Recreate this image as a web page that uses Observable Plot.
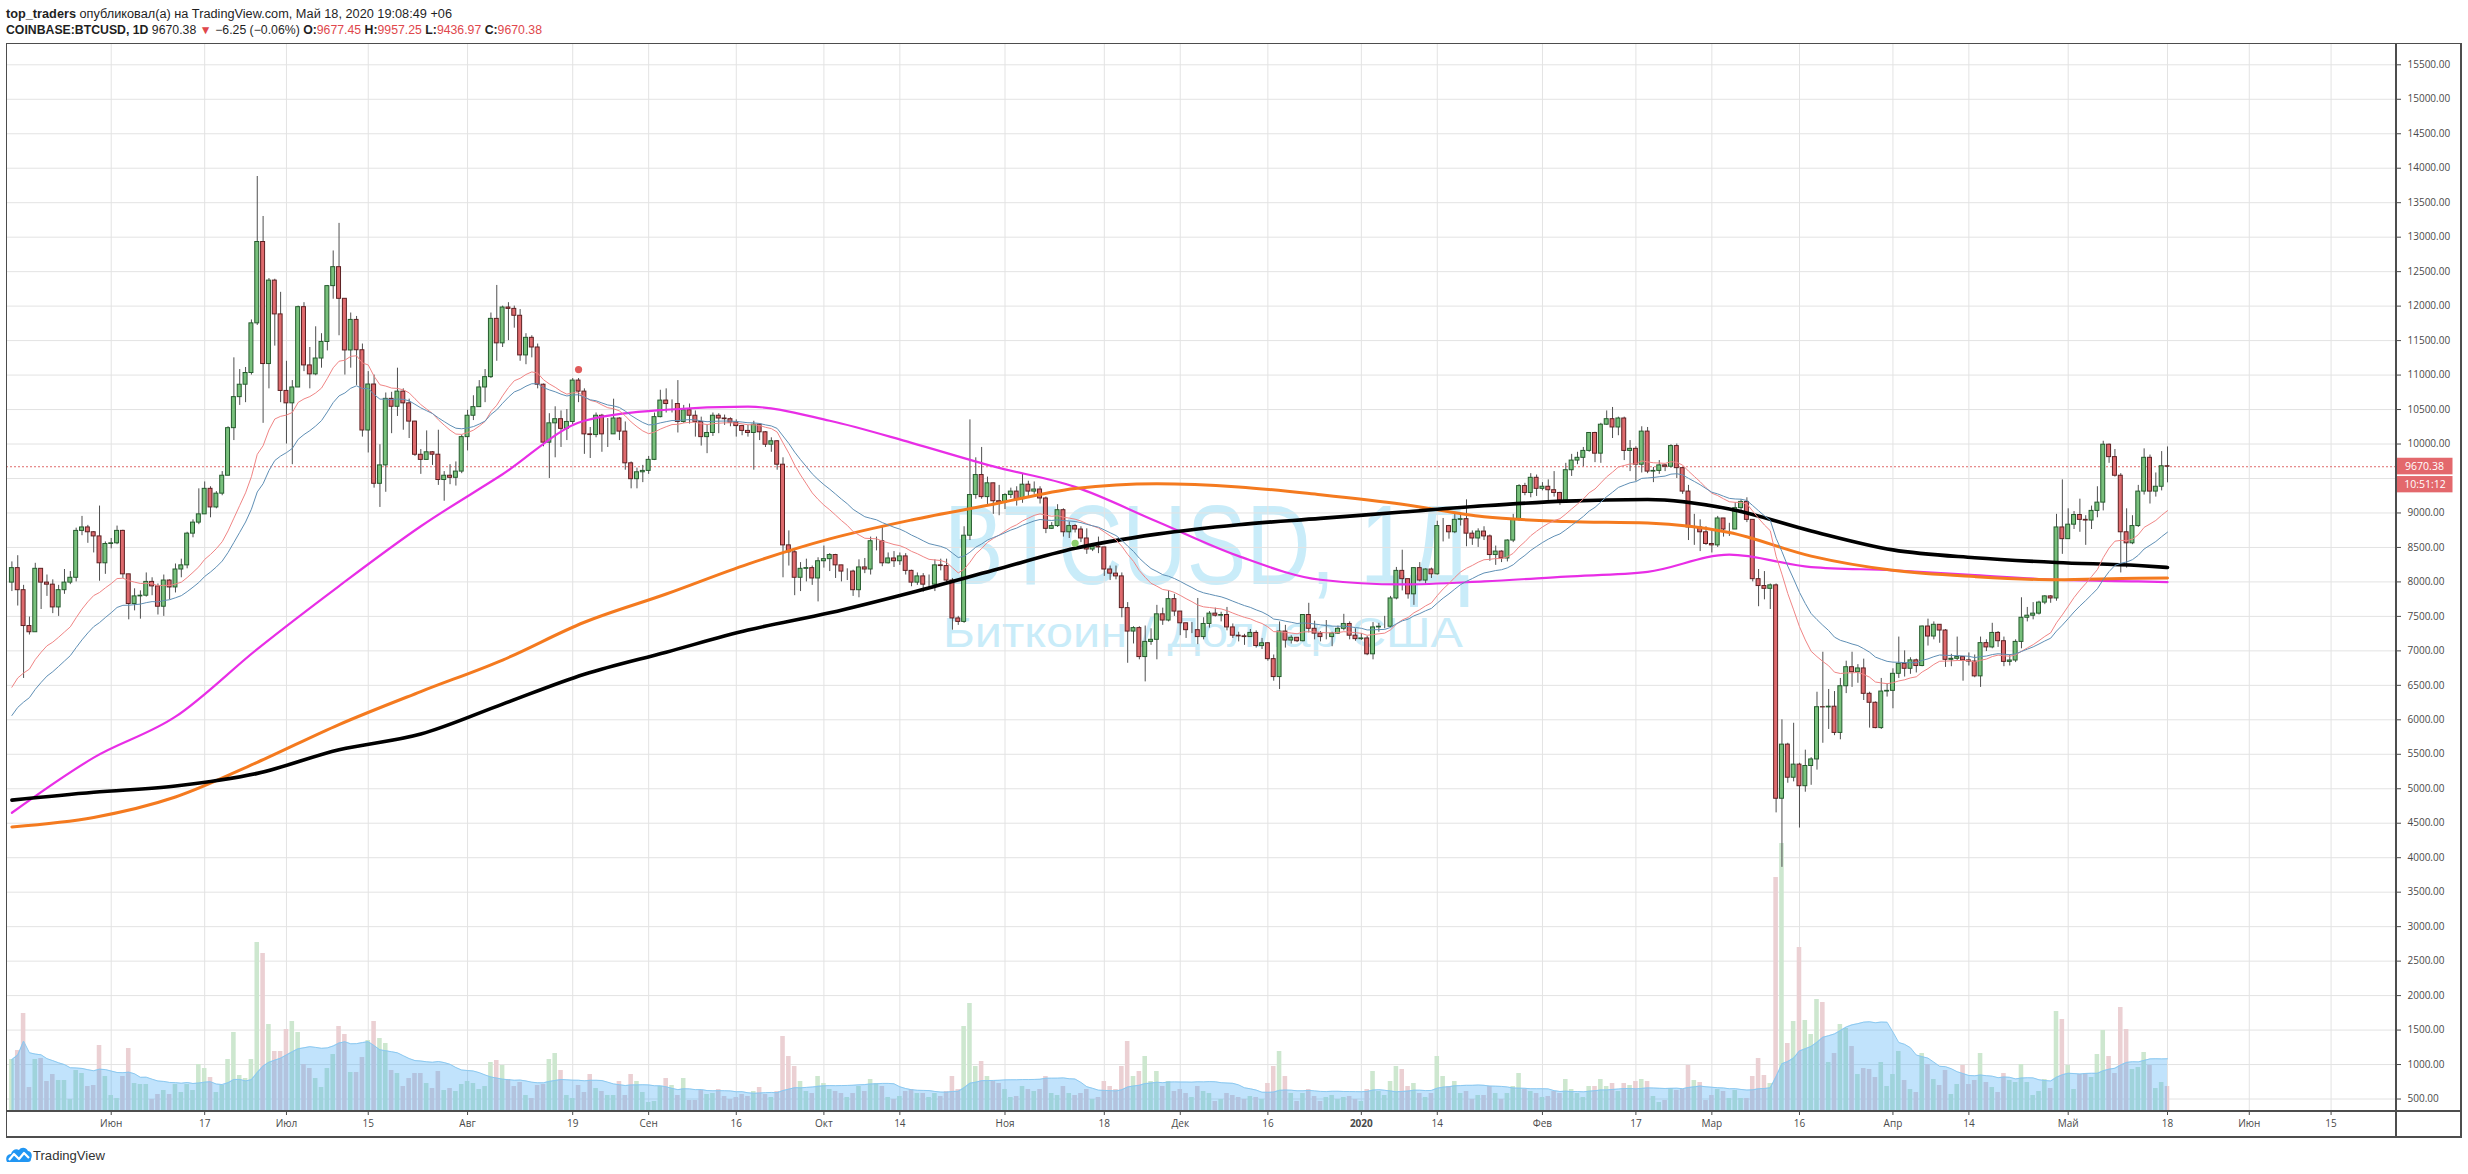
<!DOCTYPE html>
<html><head><meta charset="utf-8">
<script src="https://cdn.jsdelivr.net/npm/d3@7"></script>
<script src="https://cdn.jsdelivr.net/npm/@observablehq/plot@0.6"></script>
<style>
html,body{margin:0;padding:0;background:#fff;}
#root{position:relative;width:2468px;height:1174px;overflow:hidden;background:#fff;font-family:"Liberation Sans",Arial,sans-serif;}
.layer{position:absolute;left:6px;top:43px;}
.line{position:absolute;background:#4d4d4d;}
</style></head><body><div id="root"></div>
<script>
// ---------------- DATA ----------------
const startDate = "2019-05-15";
const firstOpen = 7990;
const close = [
// 2019-05 (15..31)
8200,7880,7360,7270,8190,7990,7960,7630,7880,7990,8060,8740,8790,8720,8660,8270,8550,
// 2019-06
8560,8740,8110,7680,7790,7800,8000,7935,7640,8020,7920,8180,8240,8700,8860,8980,9350,9080,9280,9540,10230,10680,10860,11030,11750,12930,11160,12370,11880,10770,
// 2019-07
10590,10820,11985,11140,11010,11240,11480,12290,12565,12106,11357,11800,11360,10196,10863,9423,9690,10655,10540,10760,10590,10325,9844,9770,9880,9845,9478,9540,9510,9600,10100,
// 2019-08
10410,10535,10820,10970,11815,11460,11980,11960,11860,11285,11540,11400,10860,10020,10300,10360,10220,10320,10920,10760,10140,10130,10410,10140,10140,10370,10180,9720,9490,9590,9610,
// 2019-09
9770,10390,10630,10580,10580,10320,10490,10410,10320,10100,10160,10410,10370,10360,10310,10260,10190,10160,10280,10170,9990,10040,9700,8530,8430,8060,8190,8200,8050,8300,
// 2019-10
8330,8390,8240,8150,8150,7880,8210,8180,8590,8590,8270,8340,8300,8370,8160,7990,8080,7960,7960,8240,8230,8020,7470,7420,8670,9260,9550,9230,9430,9170,9150,
// 2019-11
9260,9310,9200,9410,9310,9340,9210,8770,8810,9040,8720,8810,8760,8630,8470,8510,8500,8180,8120,8080,7620,7280,7330,6910,7130,7160,7530,7440,7750,7570,
// 2019-12
7400,7300,7300,7200,7390,7540,7510,7520,7340,7220,7210,7200,7260,7070,7110,6880,6620,7280,7150,7190,7140,7520,7320,7250,7200,7200,7250,7320,7390,7220,7170,
// 2020-01
7180,6950,7340,7350,7350,7760,8160,8040,7820,8200,8020,8180,8110,8810,8810,8720,8900,8910,8700,8630,8730,8660,8390,8440,8340,8600,8900,9390,9290,9510,9350,
// 2020-02
9380,9330,9290,9180,9620,9760,9800,9900,10160,9860,10280,10360,10240,10370,9900,9930,9700,10180,9600,9610,9690,9670,9970,9650,9310,8790,8790,8720,8550,
// 2020-03
8530,8920,8760,8760,9070,9160,8900,8040,7940,7900,7950,4855,5640,5160,5350,5037,5330,5425,6183,6180,6190,5810,6487,6763,6690,6745,6377,6247,5880,6410,6420,
// 2020-04
6667,6812,6740,6862,6780,7353,7208,7378,7295,6870,6885,6910,6862,6845,6630,7112,7050,7260,7140,6840,6860,7130,7480,7510,7540,7700,7790,7760,8790,8620,
// 2020-05 (1..18)
8830,8970,8900,8890,9030,9150,9990,9810,9540,8720,8560,8810,9310,9800,9310,9380,9677.45,9670.38
];
const high = [
8290,8380,7950,7490,8270,8190,8100,8030,7950,8180,8150,8780,8950,8820,8730,9100,8580,
8630,8810,8750,8110,7900,7870,8130,8060,7970,8100,8030,8260,8330,8720,8900,9350,9450,9380,9310,9600,10250,11250,11080,11110,11800,13880,13300,12400,12390,12200,
11200,10920,12000,12050,11400,11700,11600,12300,12800,13200,12100,11900,11850,11450,11050,11000,9990,10740,10750,11100,10800,10650,10330,9920,10190,9890,10200,9600,9700,9740,10130,
10490,10700,10920,11080,11900,12300,12000,12050,12000,11950,11600,11570,11450,10870,10440,10540,10480,10500,10950,10950,10800,10240,10450,10430,10370,10650,10380,10320,9740,9650,9690,
9820,10450,10780,10800,10640,10920,10560,10580,10480,10390,10280,10450,10440,10420,10380,10350,10270,10270,10330,10290,10180,10090,10050,9800,8740,8470,8280,8330,8230,8350,
8520,8410,8400,8230,8190,8170,8320,8340,8650,8650,8800,8420,8440,8420,8410,8170,8130,8120,8100,8320,8330,8330,8050,7500,8800,10350,9800,9950,9520,9430,9400,
9280,9360,9380,9560,9460,9450,9380,9230,8860,9120,9060,8870,8830,8800,8770,8540,8650,8500,8230,8230,8130,7700,7350,7350,7360,7320,7660,7620,7870,7820,
7570,7400,7410,7760,7480,7570,7620,7560,7630,7390,7270,7240,7310,7290,7180,7120,6940,7420,7370,7220,7190,7520,7690,7430,7280,7440,7270,7360,7530,7420,7320,
7250,7210,7410,7400,7500,7790,8210,8460,8040,8200,8280,8190,8200,8880,8920,8820,9010,9000,9190,8740,8770,8800,8680,8520,8450,8610,8980,9410,9430,9570,9550,
9440,9480,9600,9300,9720,9850,9880,9950,10160,10170,10300,10480,10530,10390,10390,10050,9960,10250,10240,9660,9760,9700,9990,10000,9660,9400,8980,8900,8800,
8750,8950,8920,8850,9150,9190,9220,8900,8180,8150,7970,7970,6000,5660,5950,5370,5560,5450,6400,6980,6440,6410,6600,6850,6980,6800,6880,6400,6260,6600,6520,
6740,7200,7000,6900,6880,7360,7460,7420,7380,7310,6950,7200,6910,6970,6940,7200,7160,7400,7280,7200,6940,7160,7770,7630,7700,7720,7800,7800,8980,9480,
9060,9020,9200,8960,9100,9380,10040,10000,9920,9570,9060,8960,9400,9930,9840,9580,9890,9957.25
];
const low = [
7860,7650,6600,7230,7270,7600,7790,7540,7500,7820,7960,8000,8670,8560,8420,8010,8110,
8480,8540,8050,7450,7580,7460,7780,7800,7520,7500,7740,7840,8060,8190,8640,8830,8980,8930,9060,9250,9540,10050,10560,10600,11000,11720,10300,10800,11420,10600,
10000,9700,10820,11050,10800,10990,11100,11350,12100,11570,11000,11100,10850,10100,9870,9360,9080,9300,10150,10400,10200,10080,9820,9560,9770,9690,9400,9170,9410,9390,9570,
9900,10340,10530,10600,10950,11200,11400,11500,11680,11200,11150,11250,10800,9960,9500,9800,9950,10050,10280,10600,9850,9790,10090,9880,9950,10140,10050,9620,9350,9350,9440,
9560,9760,10380,10450,10450,10160,10300,10290,10100,9970,9860,10110,10150,10270,10250,10100,10120,10100,9620,10050,9950,9880,9620,8060,8230,7800,7860,8000,7950,7710,
8200,8150,8050,8000,8020,7790,7770,8120,8100,8450,8220,8260,8210,8240,8100,7930,7950,7850,7890,7860,8160,7990,7300,7370,7400,8600,9200,9200,9100,8980,8960,
9050,9210,9100,9140,9230,9270,9130,8700,8760,8790,8650,8630,8710,8570,8400,8440,8410,8080,8020,8030,7480,6820,7100,6870,6550,7080,6870,7370,7420,7500,
7220,7180,7250,7090,7160,7330,7490,7420,7290,7180,7130,7080,7200,7040,7020,6850,6560,6440,7040,7100,7120,7130,7260,7160,7130,7160,7060,7240,7290,7160,7140,
7150,6930,6870,7270,7320,7340,7740,7870,7750,7660,8000,7970,8050,8100,8580,8620,8700,8810,8510,8530,8500,8600,8300,8240,8280,8290,8570,8880,9250,9220,9240,
9320,9150,9230,9110,9160,9530,9700,9670,9880,9730,9720,10270,10080,10120,9760,9600,9460,9580,9570,9440,9560,9600,9650,9500,9270,8600,8530,8440,8530,
8420,8500,8650,8660,8760,9010,8860,8000,7640,7740,7600,4650,3860,5080,5100,4430,4950,5050,5270,5660,5860,5770,5710,6380,6470,6530,6280,5880,5870,5860,6330,
6160,6600,6620,6660,6680,6770,7070,7160,7110,6760,6770,6860,6560,6780,6610,6470,6990,7030,7050,6770,6780,6830,7030,7420,7450,7520,7670,7690,7720,8400,
8620,8760,8720,8530,8760,8930,9030,9720,9520,8130,8200,8540,8790,9260,9130,9230,9320,9436.97
];
// daily volume, thousand BTC
const volume = [
15.6,18.3,29.4,7.2,15.6,15.9,9,11.1,9.3,9.3,3.6,12.3,11.4,7.5,7.8,19.8,10.5,4.8,3.9,10.5,
18.9,8.4,8.1,8.1,3.6,5.1,6.3,5.1,8.1,5.7,8.1,6.3,14.1,12.9,10.2,5.7,7.8,15.6,23.7,10.8,
9.9,15.6,50.7,47.4,26.1,18,18,24.6,27,23.7,14.1,12.9,9.9,7.2,12.9,17.1,25.5,23.1,11.7,11.7,
16.2,21.3,27,21.9,20.4,12.3,11.4,7.5,9.9,11.4,11.4,8.4,6.9,12,6.3,6.9,6,8.1,9,8.4,
6.6,7.5,14.7,15.3,13.8,9.6,7.5,8.7,4.8,3.9,7.8,8.1,15.6,17.4,12.3,4.8,3.9,7.8,5.7,11.1,
6.9,6,4.8,4.8,9,4.8,11.1,9,5.7,2.7,3,7.5,9.9,7.8,4.8,9.9,3.3,3.3,6.3,5.1,
5.4,6.6,4.5,3.6,4.2,5.1,4.5,6,7.2,5.1,4.2,6,
22.5,16.5,13.5,9,6,5.4,10.5,
8.4,6.6,6,5.4,4.2,5.4,7.5,6,9.6,8.4,7.5,4.2,3.6,4.5,6,6.6,5.4,5.4,4.2,5.4,4.5,6,10.5,6.6,
25.5,32.4,13.5,15,10.5,9,8.4,
6.6,4.2,4.5,7.5,6.6,6,6.6,10.5,5.4,4.8,7.5,5.4,4.8,5.4,6.6,3.6,4.2,9,7.5,6.6,13.5,21,10.5,12,16.5,9,12,7.5,9,6,
6.6,5.4,4.2,7.5,6,5.4,3,3.6,5.4,4.8,4.2,3.6,4.5,4.2,3.6,8.4,13.5,18,10.5,5.4,3,5.4,6.6,4.5,3,4.2,4.8,3.6,4.2,4.5,3.6,
3,6.6,12,6,4.8,9,13.5,12.6,7.5,8.4,5.4,4.2,5.4,16.5,10.5,7.5,9,5.4,6,3.6,4.8,4.8,7.5,5.4,3.6,5.4,7.5,11.4,6.6,6,5.4,
4.2,4.5,6,5.4,9.6,6.6,5.4,4.2,7.5,7.5,9.6,7.5,8.4,6,8.4,7.8,9,9.6,9,
4.5,2.7,3.3,6.9,6.3,6.6,13.8,9.3,8.7,3.3,4.8,6.6,6,3.9,6.3,3.9,3.9,10.5,15.9,10.8,
8.4,70.2,80.4,20.4,27,49.2,27.3,23.1,33.6,32.7,14.7,17.4,26.1,24.9,19.5,11.1,12.9,12.6,10.2,14.7,
7.5,11.1,18,9.3,6.6,5.7,17.4,14.1,9.6,7.8,12.3,5.1,8.1,13.8,8.1,9.3,17.4,8.7,7.2,5.7,
11.4,9.3,8.7,14.1,8.7,4.8,6,9.6,6.9,30,27.6,13.8,6.6,11.1,11.4,10.2,17.1,24.3,16.5,11.4,
31.2,24.6,12.6,13.2,17.7,13.8,6.9,8.7,7.5
];
// long moving averages
const maDates = ["2019-05-15","2019-05-29","2019-06-12","2019-06-26","2019-07-10","2019-07-24","2019-08-07","2019-08-21","2019-09-04","2019-09-18","2019-10-02","2019-10-16","2019-10-30","2019-11-13","2019-11-27","2019-12-11","2019-12-25","2020-01-08","2020-01-22","2020-02-05","2020-02-19","2020-03-04","2020-03-18","2020-04-01","2020-04-15","2020-04-29","2020-05-13","2020-05-18"];
const ma100 = [4652,5451,6045,7026,7940,8807,9561,10337,10497,10542,10337,10017,9675,9378,8876,8374,8031,7963,8008,8077,8145,8396,8214,8168,8100,8031,8008,7996];
const ma200 = [4447,4584,4880,5383,5931,6410,6867,7415,7825,8259,8624,8898,9127,9355,9424,9378,9264,9127,8944,8876,8853,8716,8374,8168,8077,8031,8054,8055];
const maLong = [4835,4949,5040,5223,5565,5794,6228,6661,6981,7301,7552,7848,8168,8488,8693,8830,8921,9013,9104,9172,9195,9058,8739,8465,8351,8282,8237,8210];
// fast averages (EMA 20 red, EMA 30 blue): starting levels read at the left edge
const emaFast = {period: 20, start: 6473};
const emaSlow = {period: 30, start: 6063};
const yTicks = d3.range(500, 15501, 500);
const yLabelHidden = [9500]; // covered by the last-price labels in the picture
const xTickDates = ["2019-06-01","2019-06-17","2019-07-01","2019-07-15","2019-08-01","2019-08-19","2019-09-01","2019-09-16","2019-10-01","2019-10-14","2019-11-01","2019-11-18","2019-12-01","2019-12-16","2020-01-01","2020-01-14","2020-02-01","2020-02-17","2020-03-01","2020-03-16","2020-04-01","2020-04-14","2020-05-01","2020-05-18","2020-06-01","2020-06-15"];
const xTickLabels = ["Июн","17","Июл","15","Авг","19","Сен","16","Окт","14","Ноя","18","Дек","16","2020","14","Фев","17","Мар","16","Апр","14","Май","18","Июн","15"];
const lastPrice = 9670.38;
const countdown = "10:51:12";
const markerDates = ["2019-08-20","2019-11-13"];
const markerPrices = [11080, 8560];
const markerColors = ["#e05a5a","#8ccf6c"];

// ---------------- BUILD ----------------
const root = document.getElementById("root");
const DAY = 864e5;
const t0 = Date.parse(startDate + "T00:00:00Z");
const n = close.length;
if (high.length !== n || low.length !== n || volume.length !== n) {
  throw new Error("length mismatch " + [n, high.length, low.length, volume.length].join(","));
}
const rows = close.map((c, i) => {
  const o = i === 0 ? firstOpen : close[i - 1];
  return {date: new Date(t0 + i * DAY), open: o, close: c,
    high: Math.max(high[i], o, c), low: Math.min(low[i], o, c), volume: volume[i], up: c >= o};
});
function ema(cfg) {
  const a = 2 / (cfg.period + 1); let e = cfg.start;
  return rows.map((r, i) => { if (i > 0) e += a * (r.close - e); return {date: r.date, value: e}; });
}
const maRows = maDates.map((d, i) => ({date: new Date(d + "T00:00:00Z"), m100: ma100[i], m200: ma200[i], mL: maLong[i]}));
const xTicks = xTickDates.map(d => new Date(d + "T00:00:00Z"));
const tickLabel = new Map(xTicks.map((d, i) => [+d, xTickLabels[i]]));
const markers = markerDates.map((d, i) => ({date: new Date(d + "T00:00:00Z"), price: markerPrices[i], color: markerColors[i]}));

const W = 2456, H = 1094;
const common = {width: W, height: H, marginLeft: 0, marginRight: 66, marginTop: 0, marginBottom: 26};
const xDomain = [new Date(t0 - 0.925 * DAY), new Date(t0 + 408.2 * DAY)];
const yDomain = [319, 15809];
const half = 0.34 * DAY, vhalf = 0.39 * DAY;

function addLayer(node, z) {
  const div = document.createElement("div");
  div.className = "layer"; div.style.zIndex = z;
  div.appendChild(node); root.appendChild(div);
}

// watermark + header + logo (plain svg text)
const deco = `
<svg width="2468" height="1174" style="position:absolute;left:0;top:0;z-index:0">
 <text x="944" y="584" font-size="114" textLength="526" lengthAdjust="spacingAndGlyphs" fill="#c9ecf9" font-family="Liberation Sans, Arial, sans-serif">BTCUSD, 1Д</text>
 <text x="943" y="647" font-size="43" textLength="520" lengthAdjust="spacingAndGlyphs" fill="#c9ecf9" font-family="Liberation Sans, Arial, sans-serif">Биткоин / Доллар США</text>
</svg>`;
root.insertAdjacentHTML("beforeend", deco);
const header = `
<svg width="1000" height="42" style="position:absolute;left:0;top:0;z-index:10" font-family="Liberation Sans, Arial, sans-serif" font-size="12" fill="#1f1f1f">
 <text x="6" y="17.5" textLength="446" lengthAdjust="spacingAndGlyphs"><tspan font-weight="bold">top_traders</tspan> опубликовал(а) на TradingView.com, Май 18, 2020 19:08:49 +06</text>
 <text x="6" y="33.5" textLength="536" lengthAdjust="spacingAndGlyphs"><tspan font-weight="bold">COINBASE:BTCUSD, 1D</tspan> 9670.38 <tspan fill="#e0474c">▼</tspan> −6.25 (−0.06%) <tspan font-weight="bold">O:</tspan><tspan fill="#e0474c">9677.45</tspan> <tspan font-weight="bold">H:</tspan><tspan fill="#e0474c">9957.25</tspan> <tspan font-weight="bold">L:</tspan><tspan fill="#e0474c">9436.97</tspan> <tspan font-weight="bold">C:</tspan><tspan fill="#e0474c">9670.38</tspan></text>
</svg>
<svg width="140" height="30" style="position:absolute;left:0;top:1144px;z-index:10">
 <g transform="translate(6,3)">
  <path d="M1,15 C-1,11 1,7 5,7 C6,3 10,1 13,3 C15,0 20,0 22,4 C25,4 27,8 25,12 C25,14 24,15 22,15 Z" fill="#2196f3"/>
  <polyline points="3,13 8,7 13,12 18,6 23,11" fill="none" stroke="#fff" stroke-width="2.2" stroke-linejoin="round"/>
 </g>
 <text x="33" y="16" font-size="13" textLength="72" lengthAdjust="spacingAndGlyphs" fill="#333" font-family="Liberation Sans, Arial, sans-serif">TradingView</text>
</svg>`;
root.insertAdjacentHTML("beforeend", header);

// grid layer
addLayer(Plot.plot({...common,
  x: {type: "utc", domain: xDomain, axis: null},
  y: {domain: yDomain, axis: null},
  style: {background: "transparent"},
  marks: [
    Plot.ruleY(yTicks, {stroke: "#e3e3e3", strokeOpacity: 1}),
    Plot.ruleX(xTicks, {stroke: "#e3e3e3", strokeOpacity: 1})
  ]
}), 1);

// volume layer
addLayer(Plot.plot({...common,
  x: {type: "utc", domain: xDomain, axis: null},
  y: {domain: [0, 320.4], axis: null},
  style: {background: "transparent"},
  marks: [
    Plot.rect(rows.filter(d => d.up), {x1: d => new Date(+d.date - vhalf), x2: d => new Date(+d.date + vhalf), y1: 0, y2: "volume", fill: "#cde7cf"}),
    Plot.rect(rows.filter(d => !d.up), {x1: d => new Date(+d.date - vhalf), x2: d => new Date(+d.date + vhalf), y1: 0, y2: "volume", fill: "#ebd0d3"}),
    Plot.areaY(rows, Plot.windowY({k: 20, anchor: "end", strict: false}, {x: "date", y: "volume", fill: "#3fa9f5", fillOpacity: 0.32})),
    Plot.lineY(rows, Plot.windowY({k: 20, anchor: "end", strict: false}, {x: "date", y: "volume", stroke: "#8cc9f0", strokeWidth: 1}))
  ]
}), 2);

// price layer
const pricePlot = Plot.plot({...common,
  x: {type: "utc", domain: xDomain, ticks: xTicks, tickFormat: d => tickLabel.get(+d), tickSize: 4, tickPadding: 4, label: null},
  y: {domain: yDomain, axis: "right", ticks: yTicks.filter(v => !yLabelHidden.includes(v)), tickFormat: d => d.toFixed(2), tickSize: 4, tickPadding: 7, label: null},
  style: {background: "transparent", fontFamily: "'Open Sans', 'Liberation Sans', sans-serif", fontSize: "10px", color: "#4a4a4a", overflow: "visible"},
  marks: [
    Plot.ruleY([lastPrice], {stroke: "#e06a6a", strokeDasharray: "2,2", strokeWidth: 1}),
    Plot.ruleX(rows, {x: "date", y1: "low", y2: "high", stroke: "#4f4f4f", strokeWidth: 1}),
    Plot.rect(rows.filter(d => d.up), {x1: d => new Date(+d.date - half), x2: d => new Date(+d.date + half), y1: "open", y2: "close", fill: "#78c07c", stroke: "#255b2d", strokeWidth: 1}),
    Plot.rect(rows.filter(d => !d.up), {x1: d => new Date(+d.date - half), x2: d => new Date(+d.date + half), y1: "open", y2: "close", fill: "#de6a6d", stroke: "#5c2022", strokeWidth: 1}),
    Plot.line(maRows, {x: "date", y: "m100", stroke: "#e82ee6", strokeWidth: 2.2, curve: "monotone-x"}),
    Plot.line(maRows, {x: "date", y: "m200", stroke: "#f47a1f", strokeWidth: 3, curve: "monotone-x"}),
    Plot.line(maRows, {x: "date", y: "mL", stroke: "#000000", strokeWidth: 3.6, curve: "monotone-x"}),
    Plot.line(ema(emaFast), {x: "date", y: "value", stroke: "#f08585", strokeWidth: 1}),
    Plot.line(ema(emaSlow), {x: "date", y: "value", stroke: "#5f8fb5", strokeWidth: 1}),
    Plot.dot(markers, {x: "date", y: "price", r: 3.6, fill: "color", stroke: "none"})
  ]
});
addLayer(pricePlot, 3);
// bold "2020"
d3.select(pricePlot).selectAll("text").filter(function () { return this.textContent === "2020"; }).attr("font-weight", "bold");
// last price + countdown labels on the price axis
const yS = pricePlot.scale("y");
const py = yS.apply(lastPrice);
const g = d3.select(pricePlot).append("g").attr("font-family", "'Open Sans','Liberation Sans',sans-serif").attr("font-size", 10.5);
g.append("rect").attr("x", 2390).attr("y", py - 8.5).attr("width", 56.5).attr("height", 16.6).attr("fill", "#e3686c");
g.append("text").attr("x", 2418.5).attr("y", py + 3.8).attr("text-anchor", "middle").attr("fill", "#fff").text(lastPrice.toFixed(2));
g.append("rect").attr("x", 2391).attr("y", py + 9.8).attr("width", 55.5).attr("height", 16.3).attr("fill", "#e3686c");
g.append("text").attr("x", 2419).attr("y", py + 21.8).attr("text-anchor", "middle").attr("fill", "#fff").text(countdown);

// frame lines
function line(l, t, w, h) { const d = document.createElement("div"); d.className = "line"; Object.assign(d.style, {left: l + "px", top: t + "px", width: w + "px", height: h + "px", zIndex: 6}); root.appendChild(d); }
line(5.5, 42.5, 2456, 1.5);
line(5.5, 1136, 2456, 1.5);
line(5.5, 42.5, 1.5, 1095);
line(2460, 42.5, 1.5, 1095);
line(2395.3, 42.5, 1.5, 1095);
line(5.5, 1110.3, 2456, 1.5);
</script></body></html>
